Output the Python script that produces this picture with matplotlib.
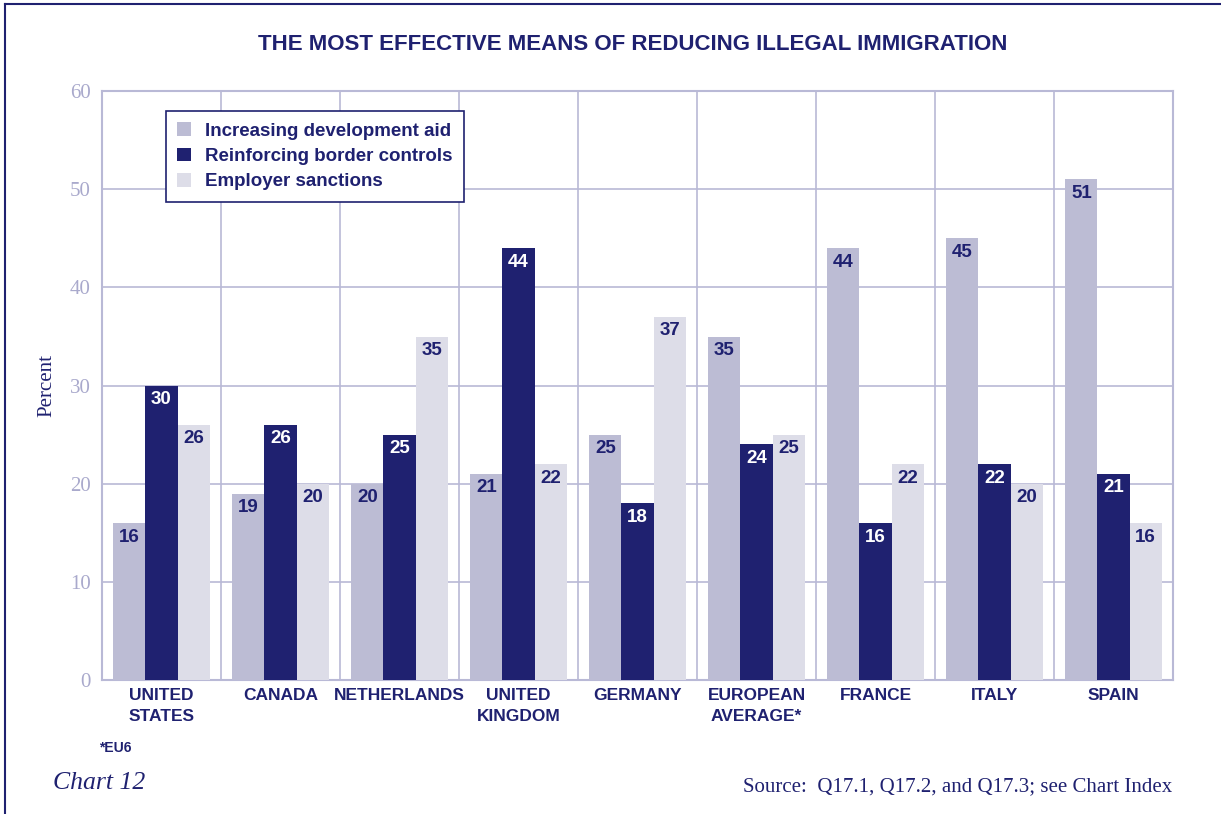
import numpy as np
import matplotlib.pyplot as plt
from matplotlib.patches import Patch

countries = ["UNITED\nSTATES", "CANADA", "NETHERLANDS", "UNITED\nKINGDOM", "GERMANY",
             "EUROPEAN\nAVERAGE*", "FRANCE", "ITALY", "SPAIN"]
dev_aid = [16, 19, 20, 21, 25, 35, 44, 45, 51]
border = [30, 26, 25, 44, 18, 24, 16, 22, 21]
sanctions = [26, 20, 35, 22, 37, 25, 22, 20, 16]
series_names = ["Increasing development aid", "Reinforcing border controls", "Employer sanctions"]
yticks = [0, 10, 20, 30, 40, 50, 60]

NAVY = "#1f2170"
C_AID = "#bcbcd4"
C_SANC = "#dddde8"
GRID = "#b9b9d6"
TICK = "#a9a9cc"
SANS = ["Liberation Sans", "DejaVu Sans"]
SERIF = ["Liberation Serif", "DejaVu Serif"]

fig = plt.figure(figsize=(12.21, 8.14), dpi=100)
ax = fig.add_axes([0.0835, 0.1646, 0.8772, 0.7234])

x = np.arange(len(countries))
w = 0.27
series = [(dev_aid, C_AID, NAVY), (border, NAVY, "white"), (sanctions, C_SANC, NAVY)]
for i, (vals, col, tcol) in enumerate(series):
    pos = x + (i - 1) * w
    ax.bar(pos, vals, width=w, color=col, zorder=3, label=series_names[i])
    for px, v in zip(pos, vals):
        ax.annotate(str(v), (px, v), xytext=(0, -4), textcoords="offset points",
                    ha="center", va="top", color=tcol, fontsize=13.5,
                    fontweight="bold", family=SANS, zorder=4)

ax.set_xlim(-0.5, len(countries) - 0.5)
ax.set_ylim(0, 60)
ax.set_yticks(yticks)
ax.set_yticklabels([str(t) for t in yticks], family=SERIF, fontsize=15, color=TICK)
ax.set_xticks(x)
ax.set_xticklabels(countries, family=SANS, fontsize=12.5, fontweight="bold",
                   color=NAVY, linespacing=1.45, va="top")
ax.set_xticks(np.arange(-0.5, len(countries), 1.0), minor=True)
ax.tick_params(axis="both", which="both", length=0)
ax.tick_params(axis="y", pad=8)
ax.tick_params(axis="x", pad=6)
ax.grid(axis="y", which="major", color=GRID, linewidth=1.2, zorder=0)
ax.grid(axis="x", which="minor", color=GRID, linewidth=1.2, zorder=0)
for s in ax.spines.values():
    s.set_color(GRID)
    s.set_linewidth(1.5)

ax.set_ylabel("Percent", family=SERIF, fontsize=15, color=NAVY, labelpad=10)

handles = [Patch(facecolor=c, edgecolor="none") for c in (C_AID, NAVY, C_SANC)]
leg = ax.legend(handles, series_names, loc="upper left", bbox_to_anchor=(0.0598, 0.966),
                borderaxespad=0,
                prop={"family": SANS, "size": 13.5, "weight": "bold"},
                handlelength=0.75, handleheight=0.75, handletextpad=0.75,
                labelspacing=0.42, borderpad=0.6, fancybox=False, framealpha=1)
leg.get_frame().set_edgecolor(NAVY)
leg.get_frame().set_linewidth(1.2)
for t in leg.get_texts():
    t.set_color(NAVY)

fig.text(0.518, 0.945, "THE MOST EFFECTIVE MEANS OF REDUCING ILLEGAL IMMIGRATION",
         ha="center", va="center", fontsize=16, fontweight="bold", color=NAVY, family=SANS)
fig.text(0.081, 0.081, "*EU6", ha="left", va="center", fontsize=10,
         fontweight="bold", color=NAVY, family=SANS)
fig.text(0.043, 0.038, "Chart 12", ha="left", va="center", fontsize=18.5,
         style="italic", color=NAVY, family=SERIF)
fig.text(0.96, 0.033, "Source:  Q17.1, Q17.2, and Q17.3; see Chart Index", ha="right",
         va="center", fontsize=15, color=NAVY, family=SERIF)

# page frame: top and left edges
fig.add_artist(plt.Line2D([0.004, 1.0], [0.995, 0.995], color=NAVY, linewidth=1.5))
fig.add_artist(plt.Line2D([0.004, 0.004], [0.0, 0.995], color=NAVY, linewidth=1.5))

fig.savefig("out.png", dpi=100)
